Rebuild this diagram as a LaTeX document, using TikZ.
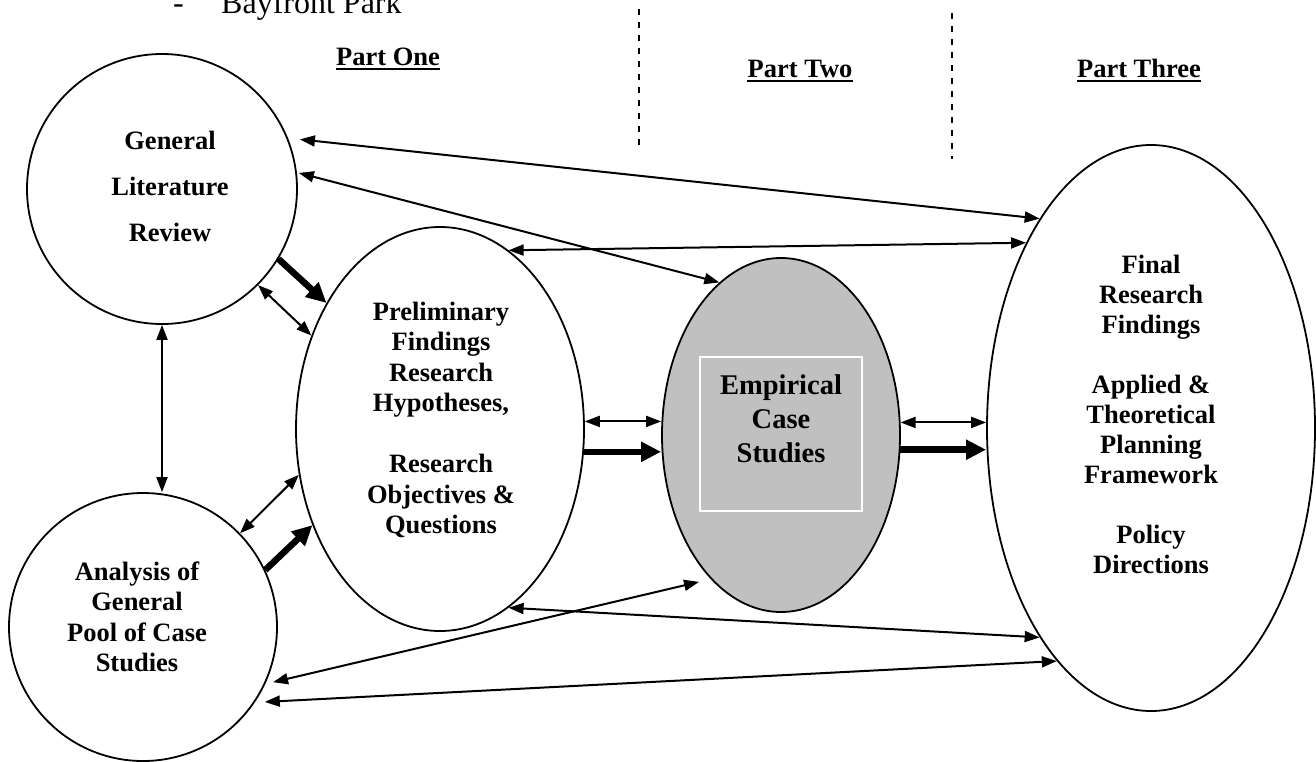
\documentclass[tikz,border=0pt]{standalone}
\usepackage{fontspec}
\setmainfont{Liberation Serif}
\usetikzlibrary{shapes.geometric,arrows.meta,calc}
\definecolor{shade}{HTML}{C0C0C0}

\begin{document}
\begin{tikzpicture}[x=1pt,y=-1pt,
  bubble/.style={draw,ellipse,line width=1.8pt,inner sep=0pt},
  lbl/.style={align=center,font=\bfseries\fontsize{26.5}{30.5}\selectfont,inner sep=0pt},
  head/.style={font=\bfseries\fontsize{26.5}{30.5}\selectfont,inner sep=0pt,anchor=base},
  thin/.style={line width=2pt,{Triangle[length=15pt,width=11pt]}-{Triangle[length=15pt,width=11pt]}},
  thick/.style={line width=6.5pt,-{Triangle[length=20pt,width=19pt]}},
  divider/.style={line width=1.5pt,dash pattern=on 6pt off 7pt},
  uline/.style={line width=1.8pt}
]
\useasboundingbox (0,0) rectangle (1316,761);

% last line of the list above the chart
\node[font=\fontsize{32}{36}\selectfont,anchor=base west,inner sep=0pt] (dash) at (173,13) {-};
\node[font=\fontsize{32}{36}\selectfont,anchor=base west,inner sep=0pt] (bay) at (221,13) {Bayfront Park};

% section headings
\node[head] (p1) at (388,65) {Part One};
\draw[uline] ([yshift=-4pt]p1.base west) -- ([yshift=-4pt]p1.base east);
\node[head] (p2) at (800,77) {Part Two};
\draw[uline] ([yshift=-4pt]p2.base west) -- ([yshift=-4pt]p2.base east);
\node[head] (p3) at (1139,77) {Part Three};
\draw[uline] ([yshift=-4pt]p3.base west) -- ([yshift=-4pt]p3.base east);

% dividers between the parts
\coordinate (d1t) at (639,9);
\coordinate (d1b) at (639,150);
\coordinate (d2t) at (952,13);
\coordinate (d2b) at (952,159);
\draw[divider] (d1t) -- (d1b);
\draw[divider] (d2t) -- (d2b);

% stages
\node[bubble,minimum width=270pt,minimum height=270pt] (lit) at (162,189) {};
\node[bubble,minimum width=268pt,minimum height=268pt] (pool) at (143,627) {};
\node[bubble,minimum width=288pt,minimum height=404pt] (pre) at (440,429) {};
\node[bubble,fill=shade,minimum width=238pt,minimum height=354pt] (emp) at (781,435) {};
\node[bubble,minimum width=328pt,minimum height=566pt] (fin) at (1151,428) {};
\node[draw=white,line width=1.5pt,minimum width=162pt,minimum height=154pt,inner sep=0pt] (box) at (781,434) {};

% stage labels
\node[lbl,font=\bfseries\fontsize{26.5}{46}\selectfont] (litT) at (170,186) {General\\Literature\\Review};
\node[lbl] (poolT) at (137,617) {Analysis of\\General\\Pool of Case\\Studies};
\node[lbl] (preT) at (441,420) {Preliminary\\Findings\\Research\\Hypotheses,\\[30.5pt]Research\\Objectives \&\\Questions};
\node[lbl,font=\bfseries\fontsize{28.5}{34}\selectfont] (empT) at (781,419) {Empirical\\Case\\Studies};
\node[lbl,font=\bfseries\fontsize{26.5}{30}\selectfont] (finT) at (1151,414) {Final\\Research\\Findings\\[30pt]Applied \&\\Theoretical\\Planning\\Framework\\[30pt]Policy\\Directions};

% links
\draw[thin,shorten <=12pt] (lit.22.4) -- (fin.118);
\draw[thin,shorten <=2pt] (lit.7.1) -- (emp.112.8);
\draw[thick] (lit.329) -- (pre.132.3);
\draw[thin] (lit.315.6) -- (pre.144.4);
\draw[thin] (lit.south) -- (lit.south |- pool.north);
\draw[thin] (pool.44.1) -- (pre.198.6);
\draw[thick] (pool.25.4) -- (pre.217);
\draw[thin] (pre.3.6) -- (emp.west |- pre.3.6);
\draw[thick] (pre.351.6) -- (emp.west |- pre.351.6);
\draw[thin] (emp.6.7) -- (fin.west |- emp.6.7);
\draw[thick] (emp.353.3) -- (fin.west |- emp.353.3);
\draw[thin] (pre.69) -- (fin.124.7);
\draw[thin] (pre.291) -- (fin.242.5);
\draw[thin,shorten <=8pt,shorten >=12pt] (pool.335.1) -- (emp.244.9);
\draw[thin,shorten <=10pt] (pool.326.6) -- (fin.248.6);
\end{tikzpicture}
\end{document}
